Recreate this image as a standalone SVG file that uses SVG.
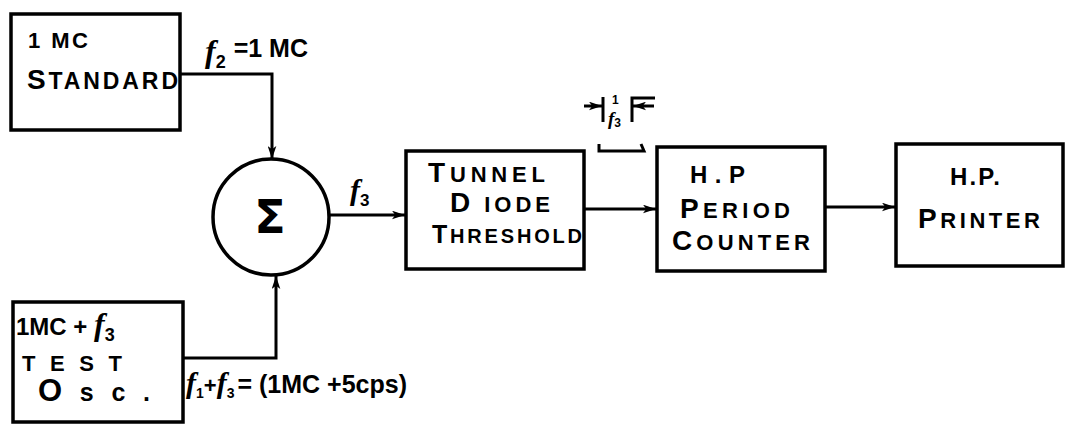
<svg xmlns="http://www.w3.org/2000/svg" width="1065" height="424" viewBox="0 0 1065 424">
<defs>
<style>
.box{fill:none;stroke:#000;stroke-width:3.5}
.wire{fill:none;stroke:#000;stroke-width:3}
.t{font-family:"Liberation Sans",Arial,sans-serif;font-weight:bold;font-style:normal;fill:#000}
.c{font-size:28px}
.f{font-family:"Liberation Serif","Times New Roman",serif;font-style:italic;font-weight:bold;fill:#000}
.n{font-family:"Liberation Sans",Arial,sans-serif;font-style:normal;font-weight:bold}
</style>
<marker id="arr" viewBox="0 0 12 8" refX="12" refY="4" markerWidth="13" markerHeight="9" markerUnits="userSpaceOnUse" orient="auto">
<path d="M0,0 L12,4 L0,8 L3,4 Z" fill="#000"/>
</marker>
</defs>
<rect width="1065" height="424" fill="#fff"/>

<g id="standard">
<rect class="box" x="11" y="14" width="169" height="116"/>
<text class="t" x="28" y="48" font-size="22" textLength="60" lengthAdjust="spacing">1 MC</text>
<text class="t" x="27" y="89" font-size="23" textLength="151" lengthAdjust="spacing"><tspan class="c">S</tspan>TANDARD</text>
</g>

<g id="sum">
<circle class="box" cx="271" cy="217" r="58"/>
<text x="270" y="233" text-anchor="middle" font-family="DejaVu Sans,sans-serif" font-weight="bold" font-size="46">Σ</text>
</g>

<g id="testosc">
<rect class="box" x="13" y="302" width="170" height="120"/>
<text class="t" x="16" y="335" font-size="24">1MC + <tspan class="f" font-size="32">f</tspan><tspan class="n" font-size="18" dy="6">3</tspan></text>
<text class="t" x="22" y="371" font-size="22" textLength="100" lengthAdjust="spacing">TEST</text>
<text class="t" x="38" y="401" font-size="25" textLength="112" lengthAdjust="spacing"><tspan font-size="31">O</tspan>sc.</text>
</g>

<g id="tunnel">
<rect class="box" x="406" y="151" width="178" height="118"/>
<text class="t" x="428" y="182" font-size="22" textLength="117" lengthAdjust="spacing"><tspan class="c">T</tspan>UNNEL</text>
<text class="t" x="450" y="212" font-size="22" textLength="100" lengthAdjust="spacing"><tspan class="c">D</tspan> IODE</text>
<text class="t" x="432" y="243" font-size="20" textLength="150" lengthAdjust="spacing"><tspan font-size="25">T</tspan>HRESHOLD</text>
</g>

<g id="counter">
<rect class="box" x="657" y="147" width="168" height="124"/>
<text class="t" x="690" y="183" font-size="24" textLength="55" lengthAdjust="spacing">H.P</text>
<text class="t" x="680" y="218" font-size="22" textLength="110" lengthAdjust="spacing"><tspan class="c">P</tspan>ERIOD</text>
<text class="t" x="672" y="250" font-size="22" textLength="138" lengthAdjust="spacing"><tspan class="c">C</tspan>OUNTER</text>
</g>

<g id="printer">
<rect class="box" x="896" y="144" width="167" height="122"/>
<text class="t" x="950" y="185" font-size="24" textLength="50" lengthAdjust="spacing">H.P.</text>
<text class="t" x="918" y="228" font-size="22" textLength="122" lengthAdjust="spacing"><tspan class="c">P</tspan>RINTER</text>
</g>

<g id="connectors">
<polyline class="wire" points="180,74 272,74 272,159" marker-end="url(#arr)"/>
<polyline class="wire" points="183,358 276,358 276,276" marker-end="url(#arr)"/>
<line class="wire" x1="329" y1="215" x2="405" y2="215" marker-end="url(#arr)"/>
<line class="wire" x1="584" y1="209" x2="656" y2="209" marker-end="url(#arr)"/>
<line class="wire" x1="825" y1="207" x2="895" y2="207" marker-end="url(#arr)"/>
<!-- period bracket -->
<line class="wire" x1="584" y1="106" x2="602" y2="106" marker-end="url(#arr)"/>
<line class="wire" x1="603" y1="97" x2="603" y2="122"/>
<line class="wire" x1="654" y1="106" x2="633" y2="106" marker-end="url(#arr)"/>
<polyline class="wire" points="632,122 632,98 655,98"/>
<polyline class="wire" points="599,144 599,151 644,151 641,144"/>
</g>

<g id="labels">
<text class="f" x="205" y="62" font-size="32">f<tspan class="n" font-size="18" dy="6">2</tspan><tspan class="n" font-size="25" dy="-11" dx="8">=1 MC</tspan></text>
<text class="f" x="350" y="200" font-size="30">f<tspan class="n" font-size="17" dy="6">3</tspan></text>
<text x="612" y="104" class="t" font-size="12">1</text>
<text class="f" x="608" y="125" font-size="19">f<tspan class="n" font-size="12" dy="2">3</tspan></text>
<text class="f" x="186" y="393" font-size="30">f<tspan class="n" font-size="14" dy="5">1</tspan><tspan class="n" font-size="22" dy="-5">+</tspan>f<tspan class="n" font-size="14" dy="5">3</tspan><tspan class="n" font-size="25" dy="-5" dx="3">= (1MC +5cps)</tspan></text>
</g>
</svg>
